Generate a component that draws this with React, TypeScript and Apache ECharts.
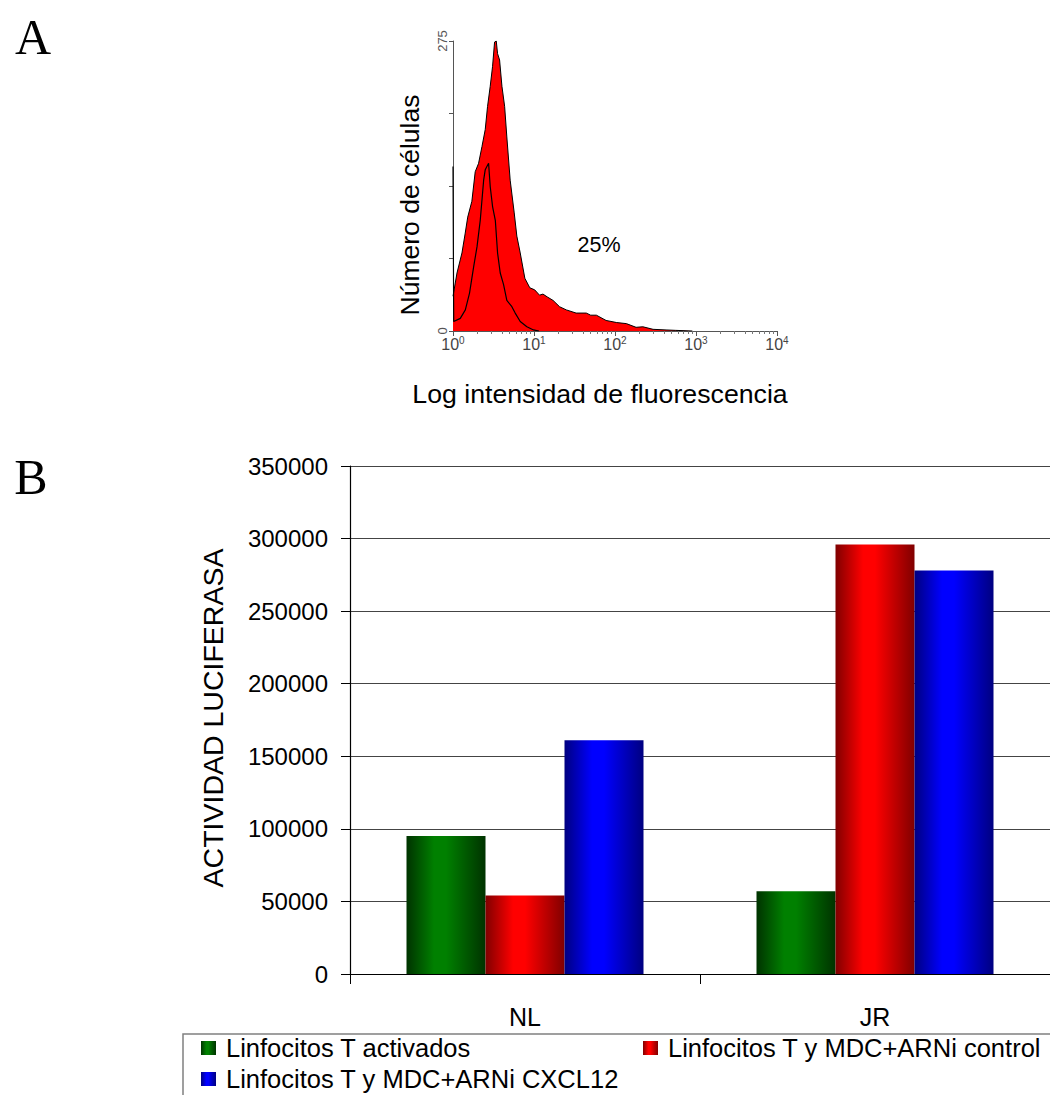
import React, { useEffect, useRef } from 'react';
import * as echarts from 'echarts';

// ---------- Panel B data ----------
const categories = ['NL', 'JR'];
const seriesNames = [
  'Linfocitos T activados',
  'Linfocitos T y MDC+ARNi control',
  'Linfocitos T y MDC+ARNi CXCL12',
];
const activados = [95000, 57000];
const arniControl = [54000, 296000];
const arniCxcl12 = [161000, 278000];
const barAxisMax = 350000;
const barAxisInterval = 50000;

// ---------- Panel A data (histogram) ----------
const stainedIntensity = [
  1.0, 1.12, 1.29, 1.41, 1.52, 1.71, 1.88, 2.07, 2.28, 2.5, 2.67, 2.88, 3.08, 3.26, 3.42, 3.55,
  3.76, 4.02, 4.34, 4.62, 5.08, 5.7, 6.14, 6.76, 7.71, 8.87, 10.2, 11.7, 12.9, 14.8, 17.2, 20.7,
  25.1, 33.1, 44.2, 50.1, 58.9, 77.6, 105, 138, 182, 221, 295, 427, 562, 902,
];
const stainedCount = [
  33, 55, 74, 92, 108, 123, 151, 159, 175, 191, 213, 232, 251, 274, 275, 263,
  257, 232, 213, 184, 143, 112, 90, 74, 50, 41, 39, 34, 35, 32, 29, 23,
  20, 17, 17, 15, 15, 10, 8, 7, 3.5, 4, 1.6, 1, 0.6, 0,
];
const controlIntensity = [
  1.0, 1.02, 1.23, 1.42, 1.6, 1.8, 1.98, 2.17, 2.39, 2.5, 2.62, 2.75, 2.88, 3.08, 3.33, 3.55,
  3.83, 4.21, 4.62, 5.33, 5.86, 6.76, 8.17, 9.86, 11.5,
];
const controlCount = [
  156, 9, 12, 20, 36, 61, 80, 105, 143, 153, 156, 159, 137, 118, 105, 74,
  55, 44, 29, 23, 17, 9, 4, 1, 0,
];
const histYMax = 275;
const histXMin = 1;
const histXMax = 10000;

const SANS = '"Liberation Sans", Arial, sans-serif';
const SERIF = '"Liberation Serif", "Times New Roman", serif';

function grad(dark: string, bright: string) {
  return new echarts.graphic.LinearGradient(0, 0, 1, 0, [
    { offset: 0, color: dark },
    { offset: 0.35, color: bright },
    { offset: 0.5, color: bright },
    { offset: 1, color: dark },
  ]);
}

export default function App() {
  const ref = useRef<HTMLDivElement>(null);

  useEffect(() => {
    if (!ref.current) return;
    const chart = echarts.init(ref.current, undefined, { renderer: 'svg' });

    const stained = stainedIntensity.map((x, i) => [x, stainedCount[i]]);
    const control = controlIntensity.map((x, i) => [x, controlCount[i]]);
    const barColors = [
      grad('#003300', '#008000'),
      grad('#800000', '#ff0000'),
      grad('#000080', '#0000ff'),
    ];
    const barData = [activados, arniControl, arniCxcl12];

    const legendPos = [
      { left: 201, top: 1034 },
      { left: 643, top: 1034 },
      { left: 201, top: 1065 },
    ];

    const option: any = {
      animation: false,
      backgroundColor: '#ffffff',
      textStyle: { fontFamily: SANS },
      grid: [
        { left: 453, top: 41, width: 324, height: 290, containLabel: false },
        { left: 350, top: 466, width: 708, height: 508, containLabel: false },
      ],
      xAxis: [
        {
          gridIndex: 0,
          type: 'log',
          logBase: 10,
          min: histXMin,
          max: histXMax,
          axisLine: { show: true, lineStyle: { color: '#555', width: 1 } },
          axisTick: { show: true, length: 5, lineStyle: { color: '#555' } },
          minorTick: { show: true, splitNumber: 9, length: 3, lineStyle: { color: '#777' } },
          splitLine: { show: false },
          axisLabel: {
            margin: 4,
            formatter: (v: number) => `{b|10}{s|${Math.round(Math.log10(v))}}`,
            rich: {
              b: { fontSize: 16, color: '#444', fontFamily: SANS },
              s: { fontSize: 10, color: '#444', fontFamily: SANS, padding: [0, 0, 8, 0] },
            },
          },
        },
        {
          gridIndex: 1,
          type: 'category',
          data: categories,
          axisLine: { show: true, lineStyle: { color: '#000', width: 1.2 } },
          axisTick: { show: true, length: 10, lineStyle: { color: '#000' } },
          axisLabel: { margin: 30, fontSize: 25, color: '#000', fontFamily: SANS },
        },
      ],
      yAxis: [
        {
          gridIndex: 0,
          type: 'value',
          min: 0,
          max: histYMax,
          interval: histYMax / 4,
          axisLine: { show: true, lineStyle: { color: '#555', width: 1 } },
          axisTick: { show: true, length: 4, lineStyle: { color: '#555' } },
          splitLine: { show: false },
          axisLabel: {
            rotate: 90,
            margin: 4,
            fontSize: 13,
            color: '#555',
            fontFamily: SANS,
            formatter: (v: number) => (v === 0 || v === histYMax ? String(v) : ''),
          },
        },
        {
          gridIndex: 1,
          type: 'value',
          min: 0,
          max: barAxisMax,
          interval: barAxisInterval,
          axisLine: { show: true, lineStyle: { color: '#000', width: 1.2 } },
          axisTick: { show: true, length: 9, lineStyle: { color: '#000' } },
          splitLine: { show: true, lineStyle: { color: '#444', width: 1 } },
          axisLabel: {
            margin: 22,
            fontSize: 24,
            color: '#000',
            fontFamily: SANS,
            formatter: (v: number) => String(v),
          },
        },
      ],
      legend: seriesNames.map((n, i) => ({
        data: [n],
        orient: 'horizontal',
        left: legendPos[i].left,
        top: legendPos[i].top,
        padding: 0,
        itemWidth: 15,
        itemHeight: 14,
        icon: 'rect',
        selectedMode: false,
        textStyle: {
          fontSize: 25.5,
          color: '#000',
          fontFamily: SANS,
          lineHeight: 28,
          padding: [0, 0, 0, 5],
        },
      })),
      series: [
        {
          type: 'line',
          name: 'stained',
          xAxisIndex: 0,
          yAxisIndex: 0,
          data: stained,
          symbol: 'none',
          lineStyle: { color: '#000', width: 1 },
          areaStyle: { color: '#ff0000', opacity: 1 },
          z: 2,
        },
        {
          type: 'line',
          name: 'control',
          xAxisIndex: 0,
          yAxisIndex: 0,
          data: control,
          symbol: 'none',
          lineStyle: { color: '#000', width: 1.2 },
          z: 3,
        },
        ...seriesNames.map((n, i) => ({
          type: 'bar',
          name: n,
          xAxisIndex: 1,
          yAxisIndex: 1,
          data: barData[i],
          barWidth: 79,
          barGap: '0%',
          itemStyle: { color: barColors[i] },
        })),
      ],
      graphic: [
        {
          type: 'text', x: 33, y: 37,
          style: { text: 'A', font: `50px ${SERIF}`, fill: '#000', textAlign: 'center', textVerticalAlign: 'middle' },
        },
        {
          type: 'text', x: 31, y: 477,
          style: { text: 'B', font: `50px ${SERIF}`, fill: '#000', textAlign: 'center', textVerticalAlign: 'middle' },
        },
        {
          type: 'text', x: 410, y: 205, rotation: Math.PI / 2,
          style: { text: 'Número de células', font: `26.5px ${SANS}`, fill: '#000', textAlign: 'center', textVerticalAlign: 'middle' },
        },
        {
          type: 'text', x: 599, y: 245,
          style: { text: '25%', font: `21.5px ${SANS}`, fill: '#000', textAlign: 'center', textVerticalAlign: 'middle' },
        },
        {
          type: 'text', x: 600, y: 394,
          style: { text: 'Log intensidad de fluorescencia', font: `26.7px ${SANS}`, fill: '#000', textAlign: 'center', textVerticalAlign: 'middle' },
        },
        {
          type: 'text', x: 213, y: 718, rotation: Math.PI / 2,
          style: { text: 'ACTIVIDAD LUCIFERASA', font: `28.5px ${SANS}`, fill: '#000', textAlign: 'center', textVerticalAlign: 'middle' },
        },
        {
          type: 'rect',
          shape: { x: 183, y: 1034, width: 900, height: 100 },
          style: { fill: 'none', stroke: '#808080', lineWidth: 1.5 },
          z: -1,
        },
      ],
    };

    chart.setOption(option);
    return () => chart.dispose();
  }, []);

  return (
    <div
      ref={ref}
      style={{ position: 'absolute', left: 0, top: 0, width: 1050, height: 1095, background: '#fff' }}
    />
  );
}
